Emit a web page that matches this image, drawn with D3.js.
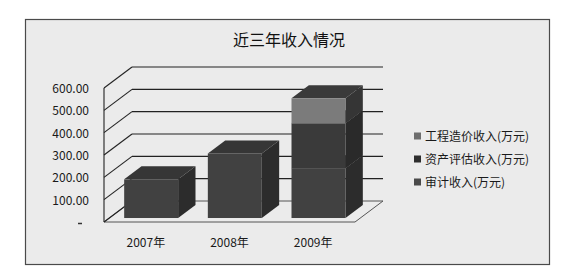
<!DOCTYPE html>
<html>
<head>
<meta charset="utf-8">
<script src="https://cdn.jsdelivr.net/npm/d3@7"></script>
<style>
  html, body { margin: 0; padding: 0; background: #fff; }
  svg { display: block; font-family: "Noto Sans CJK SC", "Noto Sans", sans-serif; }
</style>
</head>
<body>
<svg id="chart" width="573" height="274"></svg>
<script>
// 3D stacked bars, grayscale like the scanned original.

const title = "近三年收入情况";
const categories = ["2007年", "2008年", "2009年"];
const seriesNames = ["审计收入(万元)", "资产评估收入(万元)", "工程造价收入(万元)"];
const audit = [173, 289, 223];       // 审计收入
const appraisal = [0, 0, 201];        // 资产评估收入
const costing = [0, 0, 112];          // 工程造价收入
const yTicks = [0, 100, 200, 300, 400, 500, 600];

// front / top / side shades per series (scan washes everything towards dark gray)
const colors = {
  "审计收入(万元)": { front: "#414141", top: "#363636", side: "#2c2c2c" },
  "资产评估收入(万元)": { front: "#3a3a3a", top: "#343434", side: "#2a2a2a" },
  "工程造价收入(万元)": { front: "#7b7b7b", top: "#3a3a3a", side: "#353535" },
};
const legendColors = {
  "审计收入(万元)": "#4a4a4a",
  "资产评估收入(万元)": "#2e2e2e",
  "工程造价收入(万元)": "#6e6e6e",
};

const svg = d3.select("#chart");

// frame
svg.append("rect")
  .attr("x", 25.5).attr("y", 19.5)
  .attr("width", 524).attr("height", 245)
  .attr("fill", "#ebebeb")
  .attr("stroke", "#4a4a4a")
  .attr("stroke-width", 1.2);

svg.append("text")
  .attr("x", 289).attr("y", 46)
  .attr("text-anchor", "middle")
  .attr("font-size", 16)
  .attr("fill", "#111")
  .text(title);

// front plane scales; depth vector gives the 3D wall
const x = d3.scaleBand().domain(categories).range([104, 355])
  .paddingInner(0.355).paddingOuter(0.1775);
const y = d3.scaleLinear().domain([0, 600]).range([222, 88]);
const depth = { dx: 28, dy: -21 };
const barFront = 0.19, barDepth = 0.62;

const pt = (px, py) => `${px},${py}`;

// floor
const x0 = x.range()[0], x1 = x.range()[1];
svg.append("polygon")
  .attr("points", [
    pt(x0, y(0)), pt(x1, y(0)),
    pt(x1 + depth.dx, y(0) + depth.dy), pt(x0 + depth.dx, y(0) + depth.dy)
  ].join(" "))
  .attr("fill", "none")
  .attr("stroke", "#555")
  .attr("stroke-width", 1);

// back wall gridlines + side wall diagonals
const grid = svg.append("g").attr("stroke", "#222").attr("stroke-width", 1.1).attr("fill", "none");
yTicks.forEach((v) => {
  if (v > 0) {
    grid.append("line")
      .attr("x1", x0 + depth.dx).attr("y1", y(v) + depth.dy)
      .attr("x2", x1 + depth.dx).attr("y2", y(v) + depth.dy);
  }
  grid.append("line")
    .attr("x1", x0).attr("y1", y(v))
    .attr("x2", x0 + depth.dx).attr("y2", y(v) + depth.dy);
});
grid.append("line")
  .attr("x1", x0).attr("y1", y(0))
  .attr("x2", x0).attr("y2", y(600));

// y labels
svg.append("g").selectAll("text")
  .data(yTicks.filter((v) => v > 0))
  .join("text")
  .attr("x", 89).attr("y", (v) => y(v) + 5)
  .attr("text-anchor", "end")
  .attr("font-size", 12)
  .attr("fill", "#1a1a1a")
  .text((v) => v.toFixed(2));
svg.append("line")
  .attr("x1", 78).attr("x2", 82).attr("y1", y(0) + 1.5).attr("y2", y(0) + 1.5)
  .attr("stroke", "#333").attr("stroke-width", 1.5);

// stacked data
const rows = categories.map((c, i) => ({
  cat: c,
  "审计收入(万元)": audit[i],
  "资产评估收入(万元)": appraisal[i],
  "工程造价收入(万元)": costing[i],
}));
const stack = d3.stack().keys(seriesNames)(rows);

const ox = depth.dx * barFront, oy = depth.dy * barFront;
const bx = depth.dx * barDepth, by = depth.dy * barDepth;

const bars = svg.append("g");
categories.forEach((c, i) => {
  stack.forEach((layer) => {
    const d = layer[i];
    if (d[1] - d[0] <= 0) return;
    const col = colors[layer.key];
    const left = x(c) + ox, right = left + x.bandwidth();
    const top = y(d[1]) + oy, bot = y(d[0]) + oy;
    const g = bars.append("g");
    g.append("polygon")
      .attr("points", [pt(right, top), pt(right + bx, top + by), pt(right + bx, bot + by), pt(right, bot)].join(" "))
      .attr("fill", col.side);
    g.append("polygon")
      .attr("points", [pt(left, top), pt(left + bx, top + by), pt(right + bx, top + by), pt(right, top)].join(" "))
      .attr("fill", col.top);
    g.append("rect")
      .attr("x", left).attr("y", top)
      .attr("width", x.bandwidth()).attr("height", bot - top)
      .attr("fill", col.front);
  });
});

// category labels
svg.append("g").selectAll("text")
  .data(categories)
  .join("text")
  .attr("x", (c) => x(c) + x.bandwidth() / 2)
  .attr("y", 247)
  .attr("text-anchor", "middle")
  .attr("font-size", 12)
  .attr("fill", "#1a1a1a")
  .text((c) => c);

// legend (top series first)
const legend = svg.append("g").selectAll("g")
  .data(seriesNames.slice().reverse())
  .join("g")
  .attr("transform", (d, i) => `translate(414, ${136 + i * 23})`);
legend.append("rect")
  .attr("x", 0).attr("y", -3.5).attr("width", 7).attr("height", 7)
  .attr("fill", (d) => legendColors[d]);
legend.append("text")
  .attr("x", 11).attr("y", 4.5)
  .attr("font-size", 12)
  .attr("fill", "#1a1a1a")
  .text((d) => d);
</script>
</body>
</html>
